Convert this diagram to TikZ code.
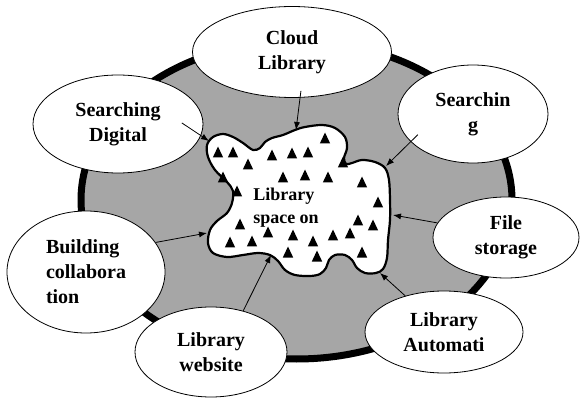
\documentclass[tikz,border=0pt]{standalone}
\usepackage{fontspec}
\setmainfont{Liberation Serif}
\usepackage{tikz}
\usetikzlibrary{shapes.geometric}
\usetikzlibrary{arrows.meta}
\definecolor{ringgray}{RGB}{166,166,166}
\tikzset{
  bubble/.style={ellipse, draw, line width=0.8pt, fill=white, inner sep=0pt, align=center,
    font=\bfseries\fontsize{20}{25}\selectfont},
  feed/.style={line width=0.8pt, -{Latex[length=8pt,width=6pt]}},
}

\begin{document}
\begin{tikzpicture}[x=1pt,y=-1pt]
    \useasboundingbox (0,0) rectangle (581,398);
    \draw[line width=7pt, fill=ringgray] (296.5,200) ellipse [x radius=215.5, y radius=159];
    \draw[line width=2.2pt, fill=white] plot[smooth cycle, tension=0.55] coordinates {
      (207,145) (213,137) (223,134) (233,137) (243,143) (253,150) (260,148) (265,142)
      (272,138) (283,135) (295,130) (305,127) (322,125) (335,128) (345,137) (347,148)
      (344,158) (346,164) (352,163) (362,160) (375,162) (385,168) (389,180) (390,200)
      (390,220) (388,240) (387,258) (383,269) (376,273) (365,273) (357,268) (352,260)
      (345,255) (335,255) (329,260) (326,268) (320,274) (310,276) (295,275) (285,270)
      (278,261) (270,255) (258,253) (243,255) (227,257) (213,253) (208,243) (210,230)
      (217,221) (227,213) (232,203) (233,191) (227,182) (215,170) (208,157)};
    \foreach \x/\y in {218/152, 233/152, 248/164, 272/155, 292/153, 308/152, 325/138,
      223/177, 237/191, 283/177, 305/175, 328/177, 343/162, 362/182, 378/202,
      240/224, 358/220, 373/225, 230/242, 252/241, 268/232, 293/235, 313/241,
      333/235, 350/233, 288/252, 317/256, 362/252}
      \fill (\x,\y) ++(-5.2,5.5) -- ++(10.4,0) -- ++(-5.2,-11) -- cycle;
    \node[align=left, font=\bfseries\fontsize{18}{23}\selectfont] (space) at (286,208) {Library\\space on};

    \node[bubble, minimum width=199pt, minimum height=91pt] (cloud) at (292,52) {Cloud\\Library};
    \node[bubble, minimum width=170pt, minimum height=98pt] (sdig) at (118,124) {Searching\\Digital};
    \node[bubble, minimum width=150pt, minimum height=98pt] (sgg) at (473,114) {Searchin\\g};
    \node[bubble, minimum width=146pt, minimum height=81pt] (fst) at (506,237.5) {File\\storage};
    \node[bubble, minimum width=158pt, minimum height=82pt] (laut) at (444,332) {Library\\Automati};
    \node[bubble, minimum width=152pt, minimum height=90pt] (lweb) at (211,352) {Library\\website};
    \node[bubble, minimum width=158pt, minimum height=122pt, align=left] (bcol) at (86,272) {Building\\collabora\\tion};

    \coordinate (tipC) at (296,130);
    \coordinate (tipSD) at (209,141);
    \coordinate (tipSG) at (386,166);
    \coordinate (tipFS) at (393,215);
    \coordinate (tipLA) at (380,273);
    \coordinate (tipLW) at (271,255);
    \coordinate (tipBC) at (207,233);
    \draw[feed, shorten <=-7pt] (cloud.-80) -- (tipC);
    \draw[feed, shorten <=-23pt] (sdig.-8) -- (tipSD);
    \draw[feed, shorten <=-10pt] (sgg.204) -- (tipSG);
    \draw[feed] (fst.168) -- (tipFS);
    \draw[feed] (laut.137) -- (tipLA);
    \draw[feed] (lweb.52) -- (tipLW);
    \draw[feed] (bcol.23) -- (tipBC);
\end{tikzpicture}
\end{document}
